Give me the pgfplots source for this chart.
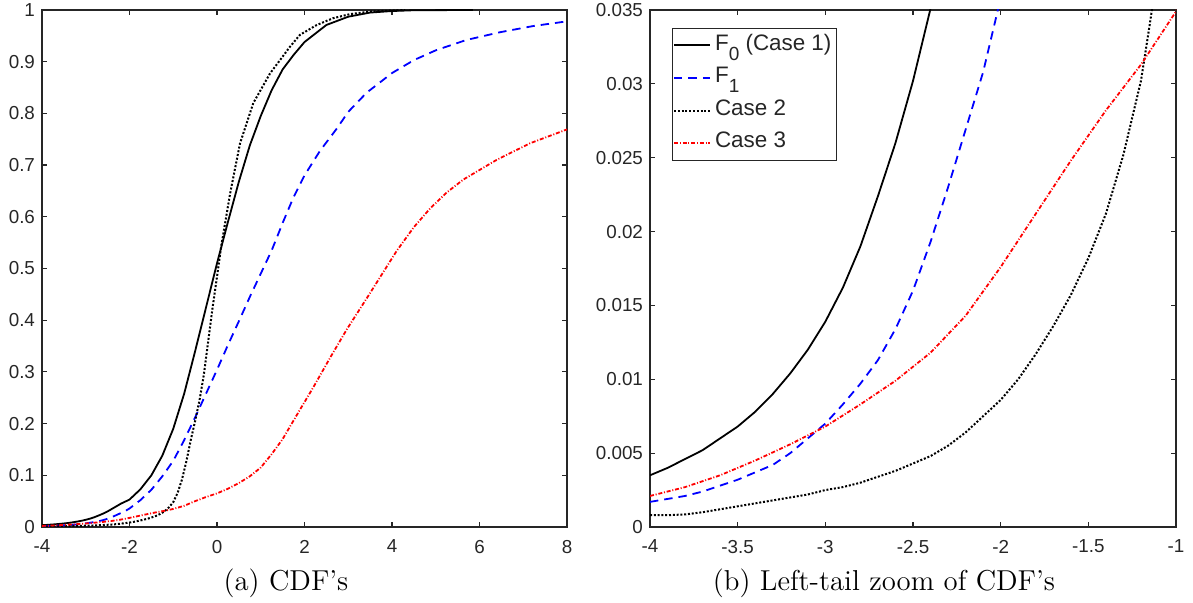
\documentclass[border=0pt]{standalone}
\usepackage{fontspec}
\usepackage{pgfplots}
\pgfplotsset{compat=1.18}
\usepackage{pgfplotstable}
\newfontfamily\arial{Liberation Sans}
\definecolor{axgray}{RGB}{38,38,38}
\definecolor{mblue}{RGB}{0,0,255}
\definecolor{mred}{RGB}{255,0,0}

% F0 (Case 1)
\pgfplotstableread{
x y
-4.0 0.0035
-3.9 0.0040
-3.8 0.0046
-3.7 0.0052
-3.6 0.0060
-3.5 0.0068
-3.4 0.0078
-3.3 0.0090
-3.2 0.0104
-3.1 0.0120
-3.0 0.0139
-2.9 0.0162
-2.8 0.0190
-2.7 0.0224
-2.6 0.0260
-2.5 0.0302
-2.4 0.0351
-2.3 0.0400
-2.2 0.0450
-2.1 0.0490
-2.0 0.053
-1.75 0.073
-1.5 0.100
-1.25 0.138
-1.0 0.190
-0.75 0.258
-0.5 0.340
-0.25 0.425
0.0 0.510
0.25 0.590
0.5 0.668
0.75 0.738
1.0 0.795
1.25 0.845
1.5 0.885
1.75 0.913
2.0 0.938
2.5 0.971
3.0 0.987
3.5 0.995
4.0 0.998
4.5 0.9995
5.85 1.0
}\FzeroTab

% F1
\pgfplotstableread{
x y
-4.0 0.0017
-3.9 0.0019
-3.8 0.0021
-3.7 0.0024
-3.6 0.0028
-3.5 0.0032
-3.4 0.0037
-3.3 0.0042
-3.2 0.0050
-3.1 0.0060
-3.0 0.0070
-2.9 0.0083
-2.8 0.0097
-2.7 0.0113
-2.6 0.0134
-2.5 0.0160
-2.4 0.0193
-2.3 0.0230
-2.2 0.0269
-2.1 0.0308
-2.0 0.0358
-1.75 0.052
-1.5 0.072
-1.25 0.098
-1.0 0.128
-0.75 0.168
-0.5 0.212
-0.25 0.258
0.0 0.304
0.25 0.352
0.5 0.398
0.75 0.445
1.0 0.490
1.25 0.535
1.5 0.588
1.75 0.638
2.0 0.680
2.35 0.727
2.75 0.772
3.0 0.803
3.42 0.840
4.0 0.878
4.5 0.903
5.0 0.922
5.7 0.942
6.47 0.957
7.23 0.969
8.0 0.978
}\FoneTab

% Case 2
\pgfplotstableread{
x y
-4.0 0.0008
-3.9 0.0008
-3.8 0.00085
-3.7 0.0010
-3.6 0.0012
-3.5 0.0014
-3.4 0.0016
-3.3 0.0018
-3.2 0.0020
-3.1 0.0022
-3.0 0.0025
-2.9 0.0027
-2.8 0.0030
-2.7 0.0034
-2.6 0.0038
-2.5 0.0043
-2.4 0.0048
-2.3 0.0055
-2.2 0.0064
-2.1 0.0075
-2.0 0.0086
-1.9 0.0100
-1.8 0.0117
-1.7 0.0136
-1.6 0.0157
-1.5 0.0182
-1.4 0.0212
-1.3 0.0252
-1.2 0.0302
-1.15 0.0340
-1.1 0.038
-1.0 0.048
-0.9 0.066
-0.8 0.092
-0.7 0.127
-0.6 0.168
-0.5 0.205
-0.4 0.245
-0.3 0.295
-0.2 0.360
-0.1 0.425
0.0 0.484
0.1 0.545
0.3 0.645
0.526 0.742
0.83 0.820
1.21 0.877
1.669 0.929
1.897 0.952
2.28 0.971
2.65 0.984
3.04 0.992
3.5 0.997
4.3 1.0
}\CtwoTab

% Case 3
\pgfplotstableread{
x y
-4.0 0.0021
-3.8 0.0027
-3.6 0.0035
-3.4 0.0045
-3.2 0.0056
-3.0 0.0068
-2.8 0.0083
-2.6 0.0099
-2.4 0.0118
-2.2 0.0143
-2.0 0.0176
-1.8 0.0212
-1.6 0.0248
-1.4 0.0282
-1.2 0.0313
-1.0 0.0349
-0.75 0.041
-0.5 0.050
-0.25 0.058
0.0 0.065
0.25 0.074
0.5 0.085
0.75 0.098
1.0 0.115
1.25 0.141
1.5 0.170
1.82 0.216
2.2 0.270
2.583 0.327
2.965 0.382
3.42 0.442
4.107 0.534
4.5 0.580
4.87 0.616
5.25 0.647
5.63 0.672
6.39 0.710
7.15 0.742
8.0 0.769
}\CthreeTab

\pgfplotsset{
  matlab/.style={
    scale only axis,
    tick align=inside, tick pos=both,
    major tick length=2.5pt,
    axis line style={axgray, line width=0.6pt},
    tick style={axgray, line width=0.6pt},
    ticklabel style={font=\arial\fontsize{9.4}{10}\selectfont, text=axgray},
    xticklabel style={yshift=-3pt},
    yticklabel style={inner ysep=0pt},
  },
  f0/.style={black, line width=0.9pt},
  f1/.style={mblue, line width=0.9pt, dash pattern=on 4.2pt off 3pt},
  c2/.style={black, line width=1pt, dash pattern=on 1pt off 0.9pt},
  c3/.style={mred, line width=0.9pt, dash pattern=on 2pt off 0.9pt on 0.5pt off 0.9pt},
}

\begin{document}
\begin{tikzpicture}
\useasboundingbox (0,0) rectangle (596.5pt,301.5pt);

% (a) CDF's
\begin{axis}[matlab,
  at={(21pt,38pt)}, anchor=south west,
  width=262.5pt, height=258.5pt,
  xmin=-4, xmax=8, ymin=0, ymax=1,
  xtick={-4,-2,0,2,4,6,8},
  xticklabels={-4,-2,0,2,4,6,8},
  ytick={0,0.1,0.2,0.3,0.4,0.5,0.6,0.7,0.8,0.9,1},
  yticklabels={0,0.1,0.2,0.3,0.4,0.5,0.6,0.7,0.8,0.9,1},
]
\addplot[f0] table {\FzeroTab};
\addplot[f1] table {\FoneTab};
\addplot[c2] table {\CtwoTab};
\addplot[c3] table {\CthreeTab};
\end{axis}

% (b) left-tail zoom
\begin{axis}[matlab,
  at={(325pt,38pt)}, anchor=south west,
  width=263pt, height=258.5pt,
  xmin=-4, xmax=-1, ymin=0, ymax=0.035,
  xtick={-4,-3.5,-3,-2.5,-2,-1.5,-1},
  xticklabels={-4,-3.5,-3,-2.5,-2,-1.5,-1},
  ytick={0,0.005,0.01,0.015,0.02,0.025,0.03,0.035},
  yticklabels={0,0.005,0.01,0.015,0.02,0.025,0.03,0.035},
  legend cell align=left,
  legend image code/.code={\draw[#1] (0pt,0pt) -- (18pt,0pt);},
  legend style={at={(axis description cs:0.041,0.966)}, anchor=north west,
    draw=axgray, line width=0.5pt, fill=white, inner sep=0.5pt,
    font=\arial\fontsize{11.2}{12}\selectfont, text=axgray,
    row sep=0pt,
    nodes={inner sep=2pt, text height=8.5pt, text depth=3.8pt}},
]
\addplot[f0] table {\FzeroTab};
\addlegendentry{F\raisebox{-5pt}{\fontsize{9.5}{9.5}\selectfont 0} (Case 1)\hspace{10pt}}
\addplot[f1] table {\FoneTab};
\addlegendentry{F\raisebox{-5pt}{\fontsize{9.5}{9.5}\selectfont 1}}
\addplot[c2] table {\CtwoTab};
\addlegendentry{Case 2}
\addplot[c3] table {\CthreeTab};
\addlegendentry{Case 3}
\end{axis}

\node[anchor=base, font=\fontsize{14.4}{17}\selectfont] at (143pt,6pt) {(a) CDF's};
\node[anchor=base, font=\fontsize{14.4}{17}\selectfont] at (442pt,6pt) {(b) Left-tail zoom of CDF's};
\end{tikzpicture}
\end{document}
